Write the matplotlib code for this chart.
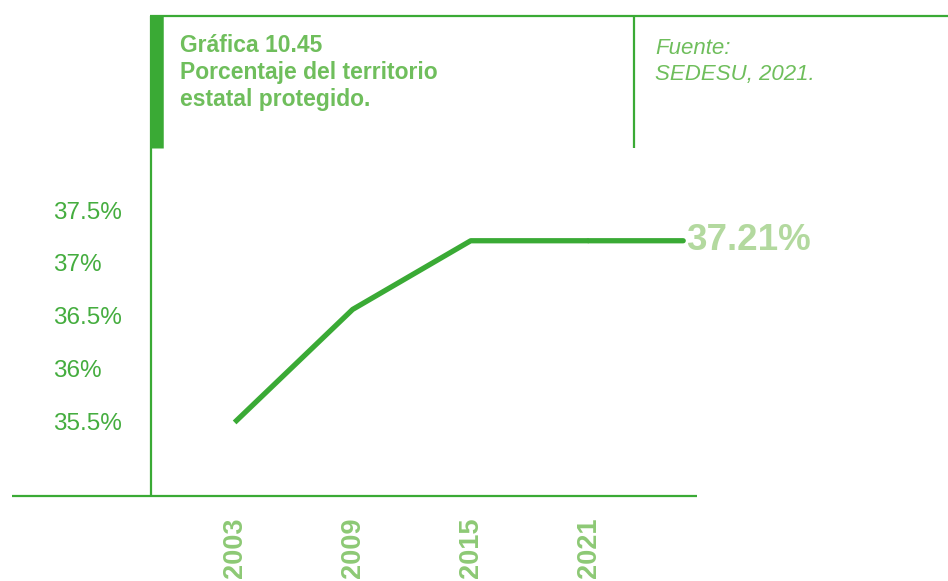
import matplotlib.pyplot as plt
from matplotlib.lines import Line2D

# porcentaje del territorio estatal protegido
years = [2003, 2009, 2015, 2021]
pct = [35.49, 36.56, 37.21, 37.21]
ytick_vals = [35.5, 36.0, 36.5, 37.0, 37.5]
ytick_labels = ['35.5%', '36%', '36.5%', '37%', '37.5%']
last_label = '37.21%'

title_num = 'Gráfica 10.45'
title_lines = ['Porcentaje del territorio', 'estatal protegido.']
source_lines = ['Fuente:', 'SEDESU, 2021.']

GREEN = '#3aaa35'
TXT = '#6fbe5c'
TICK = '#45ad3f'
YEAR = '#8dc975'
LAST = '#b3d99f'

plt.rcParams['font.family'] = ['Liberation Sans', 'DejaVu Sans']

W, H = 948, 581
fig = plt.figure(figsize=(W / 100, H / 100), dpi=100)


def fx(px):
    return px / W


def fy(py):
    return 1 - py / H


ax = fig.add_axes([fx(150), fy(495), fx(697 - 150), (495 - 148) / H])
ax.plot(years, pct, color=GREEN, lw=3.8, solid_capstyle='butt', clip_on=False)
ax.annotate(last_label, xy=(years[-1], pct[-1]), xytext=(70, 0),
            textcoords='offset points', ha='left', va='center',
            fontsize=26.5, fontweight='bold', color=LAST,
            arrowprops=dict(arrowstyle='-', color=GREEN, lw=3.8,
                            shrinkA=0, shrinkB=0))

ax.set_xlim(1998.7, 2026.5)
ax.set_ylim(34.803, 38.088)
ax.set_xticks(years)
ax.set_xticklabels([str(y) for y in years], rotation=90, fontsize=19.5,
                   fontweight='bold', color=YEAR, va='top')
ax.set_yticks(ytick_vals)
ax.set_yticklabels(ytick_labels, fontsize=17.5, color=TICK, ha='left')
ax.tick_params(axis='x', length=0, pad=16.5)
ax.tick_params(axis='y', length=0, pad=70)
for s in ax.spines.values():
    s.set_visible(False)

# frame lines of the header and axes
def hline(y, x0, x1, lw=1.6):
    fig.add_artist(Line2D([fx(x0), fx(x1)], [fy(y), fy(y)], color=GREEN, lw=lw,
                          solid_capstyle='butt'))


def vline(x, y0, y1, lw=1.6):
    fig.add_artist(Line2D([fx(x), fx(x)], [fy(y0), fy(y1)], color=GREEN, lw=lw,
                          solid_capstyle='butt'))


hline(16, 150, 948)
vline(150.5, 16, 496)
vline(156.5, 16, 148, lw=9)
vline(634, 16, 148)
hline(496, 12, 697)

fig.text(fx(180), fy(52), title_num, fontsize=16.5, fontweight='bold', color=TXT)
for i, line in enumerate(title_lines):
    fig.text(fx(180), fy(79 + 27 * i), line, fontsize=16.5, fontweight='semibold',
             color=TXT)
for i, line in enumerate(source_lines):
    fig.text(fx(655), fy(54 + 26 * i), line, fontsize=16, style='italic',
             color=TXT)

fig.savefig('out.png', dpi=100)
